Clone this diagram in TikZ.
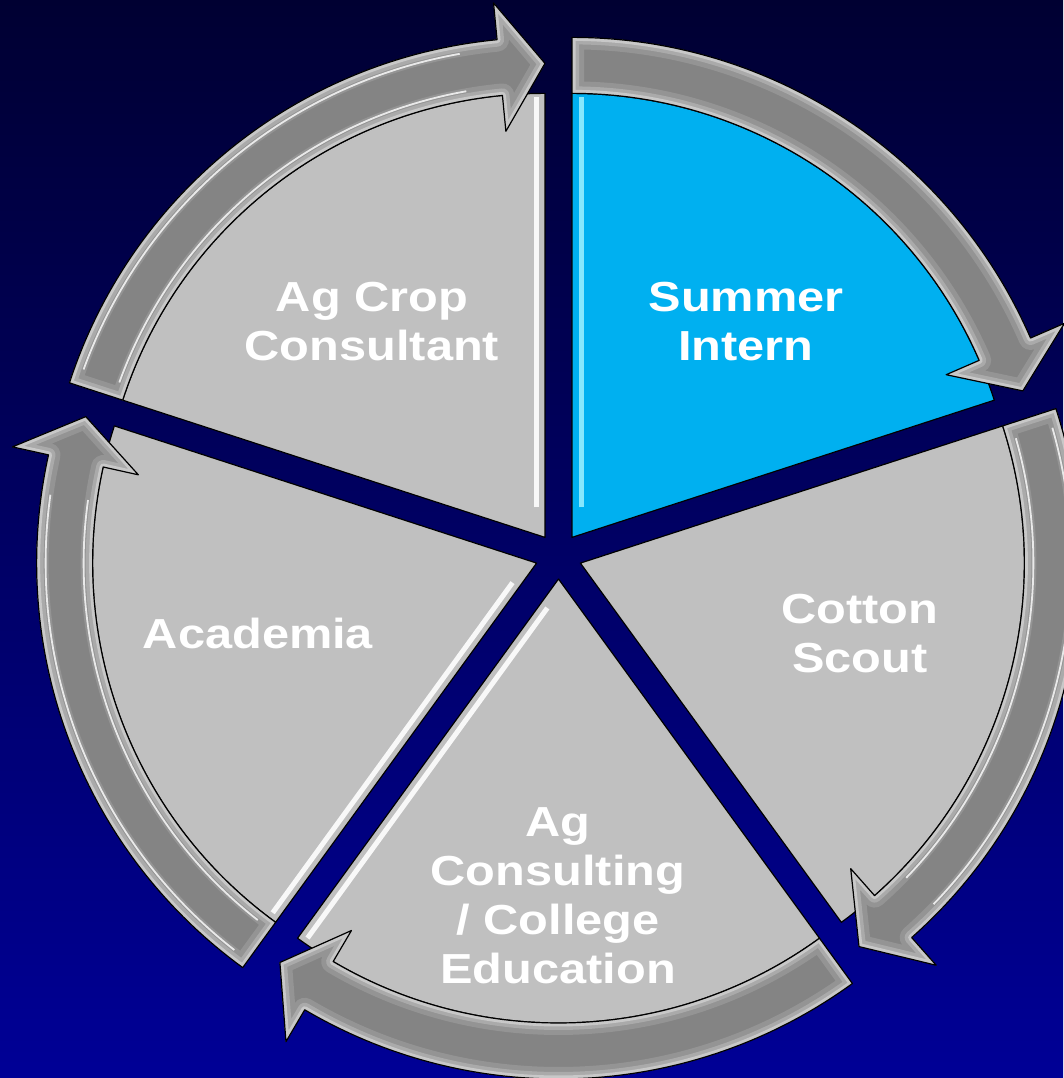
\documentclass[tikz,border=0pt]{standalone}
\usepackage{fontspec}
\setmainfont{Liberation Sans}
\newfontfamily\labelfont[FakeStretch=1.16]{Liberation Sans}
\usetikzlibrary{calc}
\definecolor{bgtop}{RGB}{0,0,50}
\definecolor{bgbot}{RGB}{0,0,150}
\definecolor{sectgray}{RGB}{192,192,192}
\definecolor{sectblue}{RGB}{0,176,240}
\definecolor{arrgray}{RGB}{132,132,132}
\definecolor{arredge1}{RGB}{148,148,148}
\definecolor{arredge2}{RGB}{170,170,170}
\definecolor{arredge3}{RGB}{200,200,200}
\definecolor{cyanhi}{RGB}{150,238,255}
\tikzset{
  sectorbox/.style={fill=sectgray, draw=black, line width=1.2pt, line join=round},
  bluebox/.style={fill=sectblue, draw=black, line width=1.2pt, line join=round},
  arrowoutline/.style={draw=black, line width=1.2pt, line join=round},
  label/.style={text=white, font=\labelfont\bfseries\fontsize{42}{49}\selectfont, align=center, inner sep=0pt},
  hiline/.style={white, line width=5pt, opacity=0.9},
  streak/.style={white, line width=1.8pt, opacity=0.8}
}
\newcommand{\arrowpath}[2]{($(#1)+(#2+36:444pt)$) arc[start angle=#2+36, end angle=#2-30.5, radius=444pt] -- ($(#1)+(#2-30.5:408pt)$) -- ($(#1)+(#2-36:474pt)$) -- ($(#1)+(#2-30.5:537pt)$) -- ($(#1)+(#2-30.5:500pt)$) arc[start angle=#2-30.5, end angle=#2+36, radius=500pt] -- cycle}
\newcommand{\sectorpath}[2]{(#1) -- ($(#1)+(#2-36:444pt)$) arc[start angle=#2-36, end angle=#2+36, radius=444pt] -- cycle}
\newcommand{\drawcyclearrow}[2]{%
  \fill[arrgray] \arrowpath{#1}{#2};
  \begin{scope}
    \clip \arrowpath{#1}{#2};
    \draw[arredge1, line width=24pt, line join=round] \arrowpath{#1}{#2};
    \draw[arredge2, line width=14pt, line join=round] \arrowpath{#1}{#2};
    \draw[arredge3, line width=7pt, line join=round] \arrowpath{#1}{#2};
  \end{scope}
  \draw[arrowoutline] \arrowpath{#1}{#2};
}
\begin{document}
\begin{tikzpicture}[x=1pt, y=1pt]
\useasboundingbox (0,0) rectangle (1063,1078);
\shade[top color=bgtop, bottom color=bgbot] (0,0) rectangle (1063,1078);
\coordinate (C) at (558.5,522);
\coordinate (A1) at ($(C)+(54:23pt)$);
\coordinate (A2) at ($(C)+(-18:23pt)$);
\coordinate (A3) at ($(C)+(270:23pt)$);
\coordinate (A4) at ($(C)+(198:23pt)$);
\coordinate (A5) at ($(C)+(126:23pt)$);
% sectors
\draw[bluebox] \sectorpath{A1}{54};
\draw[sectorbox] \sectorpath{A2}{-18};
\draw[sectorbox] \sectorpath{A3}{270};
\draw[sectorbox] \sectorpath{A4}{198};
\draw[sectorbox] \sectorpath{A5}{126};
% bevel highlights
\draw[hiline, cyanhi] ($(A1)+(90:30pt)+(0:9pt)$) -- ($(A1)+(90:440pt)+(0:9pt)$);
\draw[hiline] ($(A5)+(90:30pt)+(180:8pt)$) -- ($(A5)+(90:440pt)+(180:8pt)$);
\draw[hiline] ($(A4)+(234:30pt)+(144:8pt)$) -- ($(A4)+(234:438pt)+(144:8pt)$);
\draw[hiline] ($(A3)+(234:30pt)+(324:8pt)$) -- ($(A3)+(234:438pt)+(324:8pt)$);
% arrows
\drawcyclearrow{A1}{54}
\drawcyclearrow{A2}{-18}
\drawcyclearrow{A3}{270}
\drawcyclearrow{A4}{198}
\drawcyclearrow{A5}{126}
% streaks
\draw[streak] ($(A5)+(160:453pt)$) arc[start angle=160, end angle=100, radius=453pt];
\draw[streak] ($(A5)+(160:491pt)$) arc[start angle=160, end angle=100, radius=491pt];
\draw[streak] ($(A4)+(232:453pt)$) arc[start angle=232, end angle=172, radius=453pt];
\draw[streak] ($(A4)+(232:491pt)$) arc[start angle=232, end angle=172, radius=491pt];
\draw[streak] ($(A2)+(16:453pt)$) arc[start angle=16, end angle=-44, radius=453pt];
\draw[streak] ($(A2)+(16:491pt)$) arc[start angle=16, end angle=-44, radius=491pt];
% labels
\node[label] (crop) at (372,756) {Ag Crop\\Consultant};
\node[label] (intern) at (746,756) {Summer\\Intern};
\node[label] (scout) at (860,444) {Cotton\\Scout};
\node[label] (acad) at (258,445) {Academia};
\node[label] (consult) at (558,182) {Ag\\Consulting\\/ College\\Education};
\end{tikzpicture}
\end{document}
